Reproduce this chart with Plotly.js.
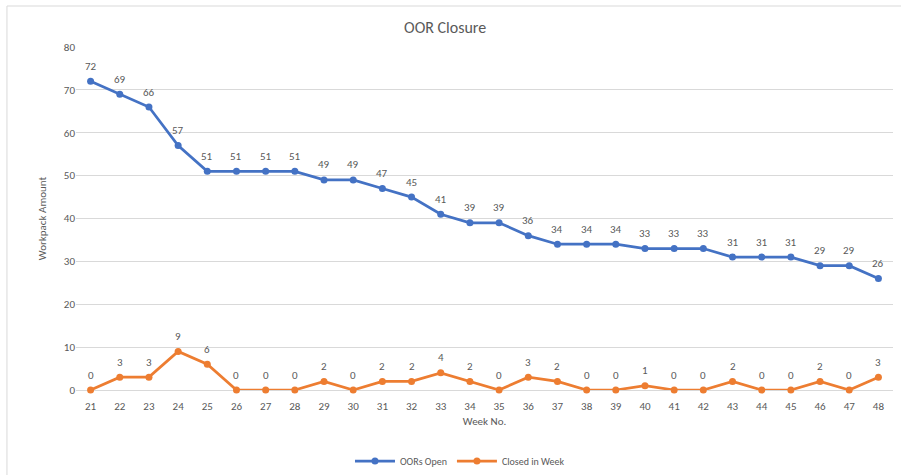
<!DOCTYPE html>
<html>
<head>
<meta charset="utf-8">
<script src="https://cdn.plot.ly/plotly-3.0.1.min.js"></script>
<style>
html,body{margin:0;padding:0;background:#fff;}
#chart{width:901px;height:475px;}
</style>
</head>
<body>
<div id="chart"></div>
<script>
const weeks = [21,22,23,24,25,26,27,28,29,30,31,32,33,34,35,36,37,38,39,40,41,42,43,44,45,46,47,48];
const oorsOpen = [72,69,66,57,51,51,51,51,49,49,47,45,41,39,39,36,34,34,34,33,33,33,31,31,31,29,29,26];
const closedInWeek = [0,3,3,9,6,0,0,0,2,0,2,2,4,2,0,3,2,0,0,1,0,0,2,0,0,2,0,3];
const seriesNames = ["OORs Open", "Closed in Week"];

const font = "Calibri, Carlito, 'Liberation Sans', 'Open Sans', sans-serif";
const grey = "#595959";

function series(y, name, color) {
  return {
    x: weeks, y: y, name: name, type: "scatter", mode: "lines+markers",
    line: {color: color, width: 2.75},
    marker: {color: color, size: 7, symbol: "circle"},
    cliponaxis: false
  };
}

const data = [
  series(oorsOpen, seriesNames[0], "#4472C4"),
  series(closedInWeek, seriesNames[1], "#ED7D31")
];

const annotations = [];
[oorsOpen, closedInWeek].forEach(function (arr) {
  arr.forEach(function (v, i) {
    annotations.push({
      x: weeks[i], y: v, xref: "x", yref: "y", text: String(v), showarrow: false,
      yshift: 15, font: {family: font, size: 11, color: grey}
    });
  });
});

const layout = {
  width: 901, height: 475,
  margin: {l: 76, r: 8, t: 47, b: 85, autoexpand: false},
  paper_bgcolor: "#fff", plot_bgcolor: "#fff",
  font: {family: font, color: grey, size: 11},
  title: {text: "OOR Closure", font: {family: font, size: 16, color: grey},
          x: 0.494, xref: "container", y: 0.943, yref: "container", xanchor: "center", yanchor: "middle"},
  xaxis: {
    range: [20.5, 48.5], tickmode: "array", tickvals: weeks, ticktext: weeks.map(String),
    showgrid: false, zeroline: false, showline: false,
    ticks: "outside", ticklen: 6, tickcolor: "rgba(0,0,0,0)", automargin: false,
    tickfont: {family: font, size: 11, color: grey},
    title: {text: "Week No.", font: {family: font, size: 11, color: grey}, standoff: 5}
  },
  yaxis: {
    range: [0, 80], dtick: 10, showgrid: true, gridcolor: "#d9d9d9", gridwidth: 1,
    zeroline: true, zerolinecolor: "#d9d9d9", zerolinewidth: 1,
    showline: false, ticks: "", ticklen: 0, automargin: false,
    tickfont: {family: font, size: 11, color: grey},
    title: {text: "Workpack Amount", font: {family: font, size: 11, color: grey}, standoff: 14}
  },
  showlegend: true,
  legend: {orientation: "h", x: 0.47, xanchor: "center", y: -0.207, yanchor: "middle",
           font: {family: font, size: 10, color: grey}, itemwidth: 40},
  annotations: annotations,
  shapes: [
    {type: "line", xref: "paper", yref: "paper", x0: -0.0845, x1: 1.02, y0: 1.1195, y1: 1.1195,
     line: {color: "#d9d9d9", width: 1}},
    {type: "line", xref: "paper", yref: "paper", x0: -0.0845, x1: -0.0845, y0: 1.1195, y1: -0.26,
     line: {color: "#d9d9d9", width: 1}}
  ]
};

Plotly.newPlot("chart", data, layout, {displayModeBar: false, staticPlot: true});
</script>
</body>
</html>
